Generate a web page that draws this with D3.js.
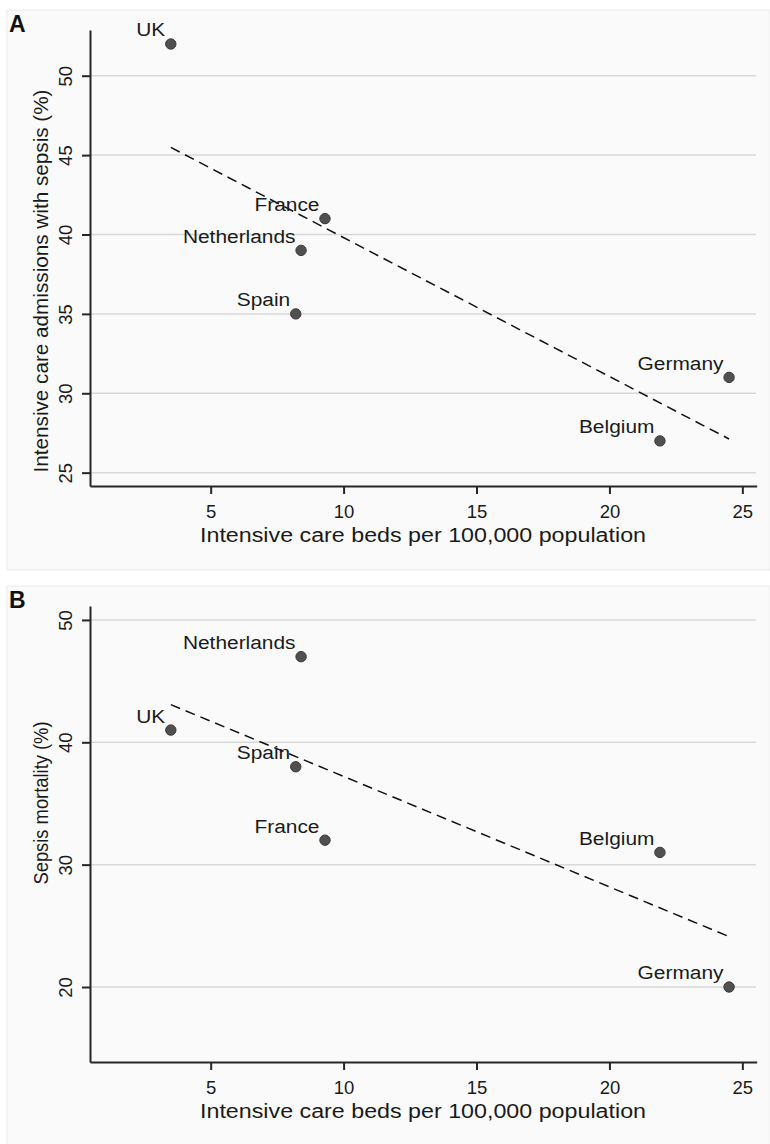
<!DOCTYPE html>
<html>
<head>
<meta charset="utf-8">
<script src="https://cdnjs.cloudflare.com/ajax/libs/d3/7.8.5/d3.min.js"></script>
<style>
  body { margin: 0; background: #fff; }
  svg { display: block; font-family: "Liberation Sans", Arial, sans-serif; }
</style>
</head>
<body>
<div id="chart"></div>
<script>
// data
var countries = ["UK", "France", "Netherlands", "Spain", "Germany", "Belgium"];
var bedsPer100k = [3.5, 9.3, 8.4, 8.2, 24.5, 21.9];
var sepsisAdmissions = [52, 41, 39, 35, 31, 27];
var sepsisMortality = [41, 32, 47, 38, 20, 31];
var xTicks = [5, 10, 15, 20, 25];
var yTicksA = [25, 30, 35, 40, 45, 50];
var yTicksB = [20, 30, 40, 50];

var width = 770, height = 1144;

var svg = d3.select("#chart").append("svg")
    .attr("width", width)
    .attr("height", height);

var panels = [
    { letter: "A", values: sepsisAdmissions, ticks: yTicksA, yDomain: [24.16, 52.88], offset: 0,
      yTitle: "Intensive care admissions with sepsis (%)", yTitleMid: 281, yTitleLen: 383 },
    { letter: "B", values: sepsisMortality, ticks: yTicksB, yDomain: [13.87, 51.14], offset: 576,
      yTitle: "Sepsis mortality (%)", yTitleMid: 227, yTitleLen: 163 }
];

// simple least squares fit, drawn over the data's x range
function fitLine(xs, ys) {
    var mx = d3.mean(xs), my = d3.mean(ys);
    var sxy = d3.sum(xs, function(d, i) { return (d - mx) * (ys[i] - my); });
    var sxx = d3.sum(xs, function(d) { return (d - mx) * (d - mx); });
    var b = sxy / sxx, a = my - b * mx;
    var x0 = d3.min(xs), x1 = d3.max(xs);
    return [[x0, a + b * x0], [x1, a + b * x1]];
}

panels.forEach(function(p) {
    var g = svg.append("g").attr("transform", "translate(0," + p.offset + ")");

    // panel background
    g.append("rect")
        .attr("x", 7).attr("y", 10)
        .attr("width", 763).attr("height", 560)
        .style("fill", "#fafafa")
        .style("stroke", "#ececec");

    var x = d3.scaleLinear().domain([0.46, 25.54]).range([90, 756.7]);
    var y = d3.scaleLinear().domain(p.yDomain).range([486, 30]);

    // gridlines
    g.selectAll(".grid").data(p.ticks).enter()
        .append("line")
        .attr("x1", 90).attr("x2", 756)
        .attr("y1", function(d) { return y(d); })
        .attr("y2", function(d) { return y(d); })
        .style("stroke", "#d8d8d8")
        .style("stroke-width", 1.5);

    // y axis, labels rotated like Stata does
    var yAxis = g.append("g")
        .attr("transform", "translate(90,0)")
        .call(d3.axisLeft(y).tickValues(p.ticks).tickSize(8).tickSizeOuter(0));
    yAxis.selectAll("text")
        .attr("x", null).attr("dy", null)
        .attr("text-anchor", "middle")
        .attr("transform", "translate(-18,0) rotate(-90)")
        .style("font-size", "18.5px")
        .style("fill", "#1a1a1a");

    // x axis
    var xAxis = g.append("g")
        .attr("transform", "translate(0,486)")
        .call(d3.axisBottom(x).tickValues(xTicks).tickSize(8).tickSizeOuter(0));
    xAxis.selectAll("text")
        .attr("y", 32).attr("dy", null)
        .style("font-size", "18.5px")
        .style("fill", "#1a1a1a");

    g.selectAll(".domain, .tick line")
        .style("stroke", "#262626")
        .style("stroke-width", 2);

    // dashed fitted line
    var fit = fitLine(bedsPer100k, p.values);
    g.append("path")
        .attr("d", d3.line().x(function(d) { return x(d[0]); }).y(function(d) { return y(d[1]); })(fit))
        .style("fill", "none")
        .style("stroke", "#111")
        .style("stroke-width", 1.5)
        .style("stroke-dasharray", "10,6");

    // points + labels
    var pts = g.selectAll(".pt").data(countries).enter().append("g")
        .attr("transform", function(d, i) {
            return "translate(" + x(bedsPer100k[i]) + "," + y(p.values[i]) + ")";
        });

    pts.append("circle")
        .attr("r", 5.2)
        .style("fill", "#505050")
        .style("stroke", "#383838")
        .style("stroke-width", 1);

    pts.append("text")
        .attr("text-anchor", "end")
        .attr("transform", "translate(-5.5,-7.5) scale(1.1,1)")
        .text(function(d) { return d; })
        .style("font-size", "19px")
        .style("fill", "#1a1a1a");

    // axis titles
    g.append("text")
        .attr("x", 423).attr("y", 541.5)
        .attr("text-anchor", "middle")
        .attr("textLength", 446)
        .attr("lengthAdjust", "spacingAndGlyphs")
        .text("Intensive care beds per 100,000 population")
        .style("font-size", "19.5px")
        .style("fill", "#1a1a1a");

    g.append("text")
        .attr("transform", "translate(48," + p.yTitleMid + ") rotate(-90)")
        .attr("text-anchor", "middle")
        .attr("textLength", p.yTitleLen)
        .attr("lengthAdjust", "spacingAndGlyphs")
        .text(p.yTitle)
        .style("font-size", "19.5px")
        .style("fill", "#1a1a1a");

    // panel letter
    g.append("text")
        .attr("x", 9).attr("y", 32)
        .text(p.letter)
        .style("font-size", "23px")
        .style("font-weight", "bold")
        .style("fill", "#111");
});
</script>
</body>
</html>
